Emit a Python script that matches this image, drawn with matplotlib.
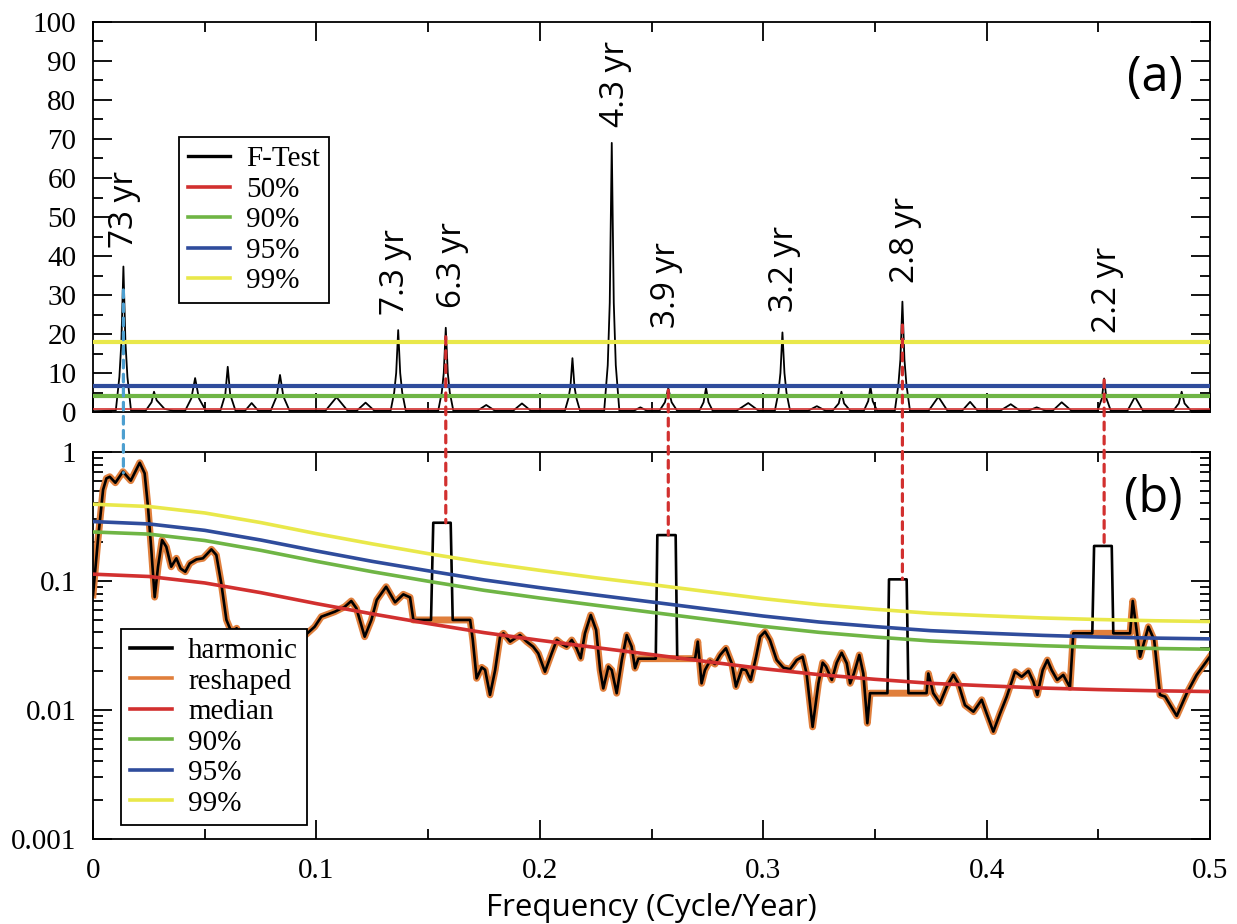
import numpy as np
import matplotlib
matplotlib.use('Agg')
import matplotlib.pyplot as plt
from matplotlib.lines import Line2D
from matplotlib.patches import ConnectionPatch
from matplotlib.ticker import MultipleLocator, LogLocator, FuncFormatter, NullFormatter

plt.rcParams['font.family'] = ['Liberation Serif', 'DejaVu Serif']

# ---- panel (a): F-test spectrum -------------------------------------------
ftest_freq = [0.0, 0.006, 0.0102, 0.0118, 0.0127, 0.0136, 0.0145, 0.0154, 0.0170,
              0.0235, 0.0262, 0.0273, 0.0285, 0.0320, 0.0360,
              0.0412, 0.0440, 0.0457, 0.0474, 0.0505,
              0.0570, 0.0592, 0.0603, 0.0614, 0.0638,
              0.0680, 0.0710, 0.0740,
              0.0795, 0.0822, 0.0837, 0.0852, 0.0880,
              0.1040, 0.1090, 0.1140,
              0.1180, 0.1220, 0.1260,
              0.1332, 0.1348, 0.1357, 0.1366, 0.1375, 0.1384, 0.1400,
              0.1545, 0.1561, 0.1570, 0.1579, 0.1588, 0.1597, 0.1613,
              0.1720, 0.1760, 0.1800,
              0.1880, 0.1920, 0.1960,
              0.2112, 0.2128, 0.2137, 0.2146, 0.2155, 0.2164, 0.2180,
              0.2288, 0.2304, 0.2313, 0.2322, 0.2331, 0.2340, 0.2356,
              0.2420, 0.2450, 0.2480,
              0.2535, 0.2560, 0.2575, 0.2590, 0.2615,
              0.2714, 0.2733, 0.2744, 0.2755, 0.2774,
              0.2880, 0.2933, 0.2980,
              0.3052, 0.3068, 0.3077, 0.3086, 0.3095, 0.3104, 0.3120,
              0.3200, 0.3240, 0.3280,
              0.3310, 0.3338, 0.3350, 0.3362, 0.3390,
              0.3450, 0.3470, 0.3480, 0.3490, 0.3510,
              0.3589, 0.3605, 0.3614, 0.3623, 0.3632, 0.3641, 0.3657,
              0.3740, 0.3784, 0.3825,
              0.3890, 0.3926, 0.3960,
              0.4060, 0.4108, 0.4150,
              0.4185, 0.4224, 0.4265,
              0.4295, 0.4336, 0.4380,
              0.4496, 0.4516, 0.4526, 0.4536, 0.4556,
              0.4630, 0.4664, 0.4700,
              0.4835, 0.4860, 0.4873, 0.4886, 0.4915, 0.5]
ftest_val = [0.2, 0.3, 0.4, 9.0, 18.0, 37.3, 18.0, 9.0, 0.4,
             0.3, 2.5, 5.2, 3.0, 0.8, 0.3,
             0.3, 3.5, 8.7, 3.5, 0.3,
             0.3, 4.5, 11.6, 4.5, 0.3,
             0.3, 2.3, 0.3,
             0.3, 4.0, 9.5, 4.0, 0.3,
             0.3, 3.8, 0.3,
             0.3, 2.4, 0.3,
             0.3, 5.0, 10.0, 21.0, 10.0, 5.0, 0.3,
             0.3, 5.0, 10.0, 21.6, 10.0, 5.0, 0.3,
             0.3, 1.8, 0.3,
             0.3, 2.2, 0.3,
             0.3, 3.5, 6.5, 13.8, 6.5, 3.5, 0.3,
             0.3, 12.0, 28.0, 69.0, 28.0, 12.0, 0.3,
             0.3, 1.2, 0.3,
             0.3, 2.5, 6.1, 2.5, 0.3,
             0.3, 2.5, 6.2, 2.5, 0.3,
             0.3, 2.3, 0.3,
             0.3, 5.0, 10.0, 20.4, 10.0, 5.0, 0.3,
             0.3, 1.5, 0.3,
             0.3, 2.2, 5.2, 2.2, 0.3,
             0.3, 2.8, 6.5, 2.8, 0.3,
             0.3, 7.0, 13.5, 28.3, 13.5, 7.0, 0.3,
             0.3, 3.9, 0.3,
             0.3, 2.6, 0.3,
             0.3, 2.0, 0.3,
             0.3, 1.2, 0.3,
             0.3, 2.5, 0.3,
             0.3, 3.5, 8.6, 3.5, 0.3,
             0.3, 3.9, 0.3,
             0.3, 2.2, 5.2, 2.2, 0.3, 0.5]

ftest_levels = [0.7, 4.2, 6.7, 17.9]          # 50%, 90%, 95%, 99%
ftest_level_names = ['50%', '90%', '95%', '99%']

peak_labels = ['73 yr', '7.3 yr', '6.3 yr', '4.3 yr', '3.9 yr', '3.2 yr', '2.8 yr', '2.2 yr']
peak_label_freq = [0.0143, 0.1352, 0.1607, 0.2337, 0.2569, 0.3093, 0.3635, 0.4539]
peak_label_y = [42, 25, 26.7, 73, 21.5, 25.6, 33, 20.2]

# ---- panel (b): harmonic / reshaped spectrum -------------------------------
spec_freq = [0.0000, 0.0022, 0.0045, 0.0060, 0.0075, 0.0100, 0.0134, 0.0169, 0.0209, 0.0231,
             0.0246, 0.0261, 0.0276, 0.0291, 0.0309, 0.0328, 0.0350, 0.0373, 0.0392, 0.0413,
             0.0433, 0.0463, 0.0492, 0.0530, 0.0552, 0.0574, 0.0597, 0.0620, 0.0643, 0.0665,
             0.0720, 0.0800, 0.0880, 0.0950, 0.0992, 0.1022, 0.1082, 0.1127, 0.1156, 0.1179,
             0.1216, 0.1246, 0.1270, 0.1312, 0.1352, 0.1389, 0.1419, 0.1434, 0.1513, 0.1523,
             0.1601, 0.1610, 0.1688, 0.1700, 0.1717, 0.1740, 0.1755, 0.1777, 0.1800, 0.1822,
             0.1837, 0.1867, 0.1911, 0.1941, 0.1970, 0.1993, 0.2023, 0.2053, 0.2076, 0.2098,
             0.2120, 0.2143, 0.2165, 0.2183, 0.2202, 0.2228, 0.2252, 0.2270, 0.2284, 0.2307,
             0.2322, 0.2344, 0.2367, 0.2389, 0.2411, 0.2426, 0.2441, 0.2519, 0.2526, 0.2608,
             0.2615, 0.2695, 0.2707, 0.2724, 0.2739, 0.2762, 0.2784, 0.2807, 0.2833, 0.2859,
             0.2878, 0.2904, 0.2923, 0.2944, 0.2968, 0.2986, 0.3008, 0.3030, 0.3060, 0.3090,
             0.3120, 0.3150, 0.3176, 0.3194, 0.3221, 0.3247, 0.3266, 0.3281, 0.3307, 0.3329,
             0.3351, 0.3374, 0.3389, 0.3406, 0.3430, 0.3448, 0.3466, 0.3478, 0.3556, 0.3563,
             0.3642, 0.3650, 0.3731, 0.3739, 0.3761, 0.3791, 0.3822, 0.3851, 0.3873, 0.3903,
             0.3941, 0.3978, 0.4000, 0.4030, 0.4060, 0.4090, 0.4127, 0.4157, 0.4187, 0.4209,
             0.4227, 0.4251, 0.4272, 0.4291, 0.4316, 0.4343, 0.4373, 0.4388, 0.4473, 0.4481,
             0.4560, 0.4567, 0.4642, 0.4654, 0.4687, 0.4724, 0.4750, 0.4776, 0.4799, 0.4851,
             0.4896, 0.4940, 0.5000]
reshaped = [0.078, 0.208, 0.510, 0.625, 0.643, 0.578, 0.704, 0.600, 0.826, 0.684,
            0.377, 0.174, 0.075, 0.129, 0.208, 0.184, 0.129, 0.150, 0.125, 0.118,
            0.137, 0.147, 0.150, 0.176, 0.159, 0.096, 0.050, 0.040, 0.043, 0.035,
            0.025, 0.030, 0.028, 0.038, 0.0442, 0.0529, 0.0578, 0.0632, 0.0700, 0.0614,
            0.0370, 0.0499, 0.0713, 0.0903, 0.0684, 0.0788, 0.0747, 0.0499, 0.0499, 0.0499,
            0.0499, 0.0499, 0.0499, 0.0349, 0.0176, 0.0214, 0.0205, 0.0131, 0.0204, 0.0370,
            0.0393, 0.0339, 0.0381, 0.0339, 0.0310, 0.0275, 0.0198, 0.0275, 0.0349, 0.0325,
            0.0310, 0.0349, 0.0300, 0.0252, 0.0393, 0.0545, 0.0417, 0.0204, 0.0147, 0.0217,
            0.0204, 0.0135, 0.0244, 0.0381, 0.0310, 0.0211, 0.0250, 0.0250, 0.0250, 0.0250,
            0.0250, 0.0250, 0.0339, 0.0161, 0.0204, 0.0241, 0.0227, 0.0267, 0.0301, 0.0230,
            0.0152, 0.0207, 0.0204, 0.0171, 0.0259, 0.0370, 0.0405, 0.0349, 0.0244, 0.0213,
            0.0207, 0.0244, 0.0259, 0.0192, 0.0074, 0.0161, 0.0233, 0.0217, 0.0171, 0.0233,
            0.0278, 0.0230, 0.0161, 0.0192, 0.0267, 0.0192, 0.0079, 0.0135, 0.0135, 0.0135,
            0.0135, 0.0135, 0.0135, 0.0192, 0.0135, 0.0113, 0.0152, 0.0187, 0.0161, 0.0109,
            0.0097, 0.0120, 0.0094, 0.0068, 0.0094, 0.0127, 0.0198, 0.0181, 0.0201, 0.0166,
            0.0131, 0.0204, 0.0244, 0.0204, 0.0171, 0.0187, 0.0150, 0.0393, 0.0393, 0.0393,
            0.0393, 0.0393, 0.0393, 0.0700, 0.0259, 0.0442, 0.0349, 0.0131, 0.0127, 0.0090,
            0.0135, 0.0187, 0.0260]

# harmonic line = reshaped line, except it keeps the line components as boxes
box_lo = [0.1523, 0.2526, 0.3563, 0.4481]
box_hi = [0.1601, 0.2608, 0.3642, 0.4560]
box_top = [0.283, 0.227, 0.103, 0.187]

level_freq = [0.0, 0.025, 0.05, 0.075, 0.1, 0.125, 0.15, 0.175, 0.2, 0.225, 0.25,
              0.275, 0.3, 0.325, 0.35, 0.375, 0.4, 0.425, 0.45, 0.475, 0.5]
median_lvl = [0.1130, 0.1084, 0.0966, 0.0813, 0.0668, 0.0556, 0.0468, 0.0398, 0.0347, 0.0305, 0.0269,
              0.0237, 0.0209, 0.0188, 0.0173, 0.0161, 0.0154, 0.0148, 0.0144, 0.0141, 0.0139]
lvl90 = [0.240, 0.231, 0.206, 0.173, 0.142, 0.118, 0.0996, 0.0847, 0.0738, 0.0649, 0.0572,
         0.0504, 0.0445, 0.0400, 0.0368, 0.0343, 0.0328, 0.0315, 0.0306, 0.0300, 0.0296]
lvl95 = [0.289, 0.277, 0.247, 0.208, 0.171, 0.142, 0.120, 0.102, 0.0888, 0.0780, 0.0688,
         0.0606, 0.0535, 0.0481, 0.0443, 0.0412, 0.0394, 0.0379, 0.0368, 0.0361, 0.0356]
lvl99 = [0.394, 0.378, 0.337, 0.284, 0.233, 0.194, 0.163, 0.139, 0.121, 0.106, 0.0939,
         0.0827, 0.0730, 0.0656, 0.0604, 0.0562, 0.0538, 0.0517, 0.0503, 0.0492, 0.0485]

# dashed links between the two panels
link_freq = [0.0136, 0.1579, 0.2575, 0.3623, 0.4526]
link_top = [31.3, 19.3, 5.6, 22.3, 8.2]
link_bottom = [0.69, 0.283, 0.227, 0.103, 0.187]

RED = '#d2302f'
GREEN = '#6fb545'
BLUE = '#2f4c9c'
YELLOW = '#e9e84a'
ORANGE = '#e07f3c'
LBLUE = '#4d9fd0'
level_colors = [RED, GREEN, BLUE, YELLOW]
SANS = 'Open Sans'

fig = plt.figure(figsize=(12.37, 9.24), dpi=100)
ax1 = fig.add_axes([0.0752, 0.5541, 0.903, 0.4221])
ax2 = fig.add_axes([0.0752, 0.0920, 0.903, 0.4188])

# panel (a)
ax1.plot(ftest_freq, ftest_val, color='black', lw=1.3, zorder=2)
for lev, col in zip(ftest_levels, level_colors):
    ax1.axhline(lev, color=col, lw=1.2 if col == RED else 3.0, zorder=3)
for txt, fx, fy in zip(peak_labels, peak_label_freq, peak_label_y):
    ax1.text(fx, fy, txt, rotation=90, ha='center', va='bottom',
             fontsize=24, family=SANS)
ax1.text(0.951, 0.856, '(a)', transform=ax1.transAxes, ha='center', va='center',
         fontsize=35, family=SANS)
ax1.set_xlim(0, 0.5)
ax1.set_ylim(0, 100)
ax1.xaxis.set_major_locator(MultipleLocator(0.1))
ax1.xaxis.set_minor_locator(MultipleLocator(0.05))
ax1.yaxis.set_major_locator(MultipleLocator(10))
ax1.yaxis.set_minor_locator(MultipleLocator(5))
ax1.tick_params(axis='x', labelbottom=False)

h1 = [Line2D([], [], color='black', lw=2.4)] + \
     [Line2D([], [], color=c, lw=2.6) for c in level_colors]
leg1 = ax1.legend(h1, ['F-Test'] + ftest_level_names, loc='upper left',
                  bbox_to_anchor=(0.077, 0.705), fontsize=21, fancybox=False,
                  edgecolor='black', framealpha=1, handlelength=1.45,
                  handletextpad=0.55, labelspacing=0.14, borderpad=0.3,
                  borderaxespad=0)
leg1.get_frame().set_linewidth(1.3)

# panel (b)
sf = np.array(spec_freq)
resh = np.array(reshaped)
harm = resh.copy()
for lo, hi, top in zip(box_lo, box_hi, box_top):
    harm[(sf >= lo - 1e-9) & (sf <= hi + 1e-9)] = top

ax2.plot(sf, resh, color=ORANGE, lw=5, zorder=2)
ax2.plot(sf, harm, color='black', lw=1.9, zorder=3)
for vals, col in zip([median_lvl, lvl90, lvl95, lvl99], level_colors):
    ax2.plot(level_freq, vals, color=col, lw=2.6, zorder=4)
ax2.text(0.949, 0.879, '(b)', transform=ax2.transAxes, ha='center', va='center',
         fontsize=35, family=SANS)
ax2.set_yscale('log')
ax2.set_xlim(0, 0.5)
ax2.set_ylim(0.001, 1)
ax2.xaxis.set_major_locator(MultipleLocator(0.1))
ax2.xaxis.set_minor_locator(MultipleLocator(0.05))
ax2.xaxis.set_major_formatter(FuncFormatter(lambda v, p: f'{v:g}'))
ax2.yaxis.set_major_locator(LogLocator(base=10, numticks=10))
ax2.yaxis.set_minor_locator(LogLocator(base=10, subs=np.arange(2, 10), numticks=20))
ax2.yaxis.set_major_formatter(FuncFormatter(lambda v, p: f'{v:g}'))
ax2.yaxis.set_minor_formatter(NullFormatter())
ax2.set_xlabel('Frequency (Cycle/Year)', family=SANS, fontsize=22.5, labelpad=6)

names2 = ['harmonic', 'reshaped', 'median', '90%', '95%', '99%']
h2 = [Line2D([], [], color=c, lw=2.6) for c in ['black', ORANGE] + level_colors]
leg2 = ax2.legend(h2, names2, loc='upper left', bbox_to_anchor=(0.025, 0.543),
                  fontsize=21, fancybox=False, edgecolor='black', framealpha=1,
                  handlelength=1.45, handletextpad=0.55, labelspacing=0.14,
                  borderpad=0.3, borderaxespad=0)
leg2.get_frame().set_linewidth(1.3)
leg2.set_zorder(6)

for ax in (ax1, ax2):
    for s in ax.spines.values():
        s.set_linewidth(1.3)
    ax.tick_params(which='both', direction='in', top=True, right=True, width=1.3,
                   labelsize=21, pad=12)
    ax.tick_params(which='major', length=14)
    ax.tick_params(which='minor', length=7)
ax2.tick_params(axis='x', pad=14)

for fx, yt, yb, col in zip(link_freq, link_top, link_bottom,
                           [LBLUE, RED, RED, RED, RED]):
    con = ConnectionPatch(xyA=(fx, yt), coordsA=ax1.transData,
                          xyB=(fx, yb), coordsB=ax2.transData,
                          color=col, lw=2.3, linestyle=(0, (2.4, 2.0)), zorder=10)
    fig.add_artist(con)

fig.savefig('out.png', dpi=100)
